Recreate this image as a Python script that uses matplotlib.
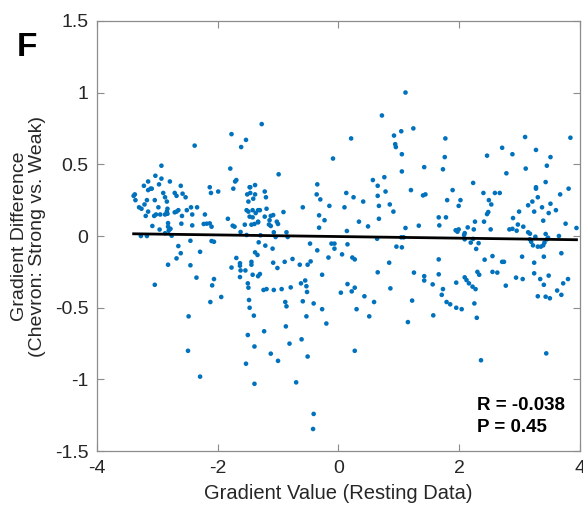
import numpy as np
import matplotlib.pyplot as plt

plt.rcParams['font.family'] = ['Liberation Sans', 'DejaVu Sans']
plt.rcParams['axes.unicode_minus'] = False

# resting gradient value (x) and gradient difference strong vs weak (y)
rest_left = [-2.38, -1.77, -1.53, -1.61, -2.93, -1.79, -1.69, -1.71, -1.74, -3.15, -3.03, -2.93, -2.79,
             -3.22, -3.09, -3.15, -3.11, -2.97, -2.61, -2.13, -2.11, -1.99, -3.37, -3.39, -3.36, -3.17,
             -3.04, -2.90, -2.87, -2.71, -2.68, -2.58, -2.53, -3.21, -3.26, -3.30, -3.15, -3.19, -2.98,
             -2.84, -2.83, -2.84, -2.68, -2.71, -2.65, -2.51, -2.44, -2.34, -2.59, -2.42, -2.21, -3.05,
             -3.02, -2.95, -2.87, -2.83, -3.08, -2.96, -2.82, -2.82, -2.78, -2.60, -2.42, -2.23, -2.18,
             -2.13, -2.10, -1.83, -1.75, -1.72, -1.55, -1.52, -1.49, -1.49, -1.47, -1.51,
             -3.27, -3.17, -2.87, -2.81, -2.76, -2.65, -2.45, -2.10, -2.06, -2.68, -2.61, -2.82, -2.45,
             -2.29, -2.35, -3.04, -2.06, -2.09, -2.12, -1.94, -2.48, -2.49, -2.29, -1.77, -1.69, -1.63,
             -1.63, -1.62, -1.63, -1.54, -1.62, -1.52, -1.50, -1.49, -1.48, -1.47, -1.50, -1.53]
diff_left = [0.63, 0.71, 0.67, 0.62, 0.49, 0.47, 0.39, 0.38, 0.33, 0.38, 0.42, 0.40, 0.38,
             0.35, 0.33, 0.32, 0.33, 0.36, 0.35, 0.34, 0.30, 0.31, 0.29, 0.28, 0.25, 0.25,
             0.25, 0.30, 0.27, 0.30, 0.28, 0.295, 0.27, 0.22, 0.19, 0.20, 0.17, 0.14, 0.20,
             0.24, 0.19, 0.17, 0.17, 0.165, 0.18, 0.18, 0.20, 0.20, 0.14, 0.15, 0.15, 0.14,
             0.15, 0.15, 0.15, 0.155, 0.07, 0.045, 0.09, 0.065, 0.05, 0.086, 0.074, 0.084, 0.086,
             0.088, 0.065, 0.12, 0.072, 0.065, 0.079, 0.18, 0.17, 0.24, 0.34, 0.29,
             0.0, 0.0, 0.019, 0.037, 0.002, -0.07, -0.033, -0.035, -0.04, -0.156, -0.12, -0.20, -0.204,
             -0.11, -0.29, -0.34, -0.30, -0.344, -0.46, -0.425, -0.56, -0.80, -0.98, -0.22, -0.153, -0.19,
             -0.207, -0.24, -0.286, -0.24, 0.028, 0.007, -0.33, -0.36, -0.446, -0.50, -0.69, -0.89]

rest_mid = [-1.27, -0.99, -1.46, -1.38, -1.46, -1.38, -1.41, -1.22, -1.20, -1.42, -1.33, -1.30, -1.19,
            -1.47, -1.42, -1.37, -1.33, -1.39, -1.44, -1.33, -1.22, -1.12, -1.08, -1.14, -1.15, -1.12,
            -1.02, -1.00, -0.91, -0.59, -0.35, -0.36, -0.30, -0.32, -0.23, -0.32, -0.15, -0.09, 0.13,
            0.10, 0.21, 0.25, 0.34, 0.41, 0.49, 0.57, 0.65, 0.65, 0.67, 0.67, 0.72, 0.76, 0.78, 0.85,
            0.91, 0.92, 0.94, 0.95, 1.04, 1.05, 1.05, 1.11, 1.24, 1.20, 1.11, 1.33,
            -1.29, -1.32, -1.21, -1.09, -1.38, -1.34, -1.44, -1.44, -1.08, -0.89, -1.01, -0.76, -0.64,
            -0.51, -0.46, -1.07, -1.04, -0.86, -0.84, -0.47, -0.35, -0.165, -0.115, -0.066, -0.066, 0.14,
            0.15, 0.06, 0.23, 0.27, 0.64, 0.96, 1.05, 1.04, 1.08, 0.84, 0.65, 1.25, 0.86, 1.22, 1.15,
            -1.42, -1.33, -1.30, -1.24, -1.19, -1.07, -0.94, -0.79, -0.62, -0.55, -0.53, -0.52, -0.27,
            -0.59, -0.88, -0.86, -0.41, -0.27, -0.53, -0.20, -1.40, -0.87, -1.23, -1.39, -0.81, -0.61,
            -1.12, -1.00, -0.51, -1.39, -0.70, -0.41, -0.42, 0.04, 0.15, 0.22, 0.27, 0.43, 0.59, 0.30,
            0.51, 0.27]
diff_mid = [0.78, 0.43, 0.34, 0.355, 0.30, 0.29, 0.26, 0.31, 0.27, 0.18, 0.18, 0.18, 0.19,
            0.135, 0.13, 0.16, 0.095, 0.084, 0.079, 0.10, 0.135, 0.14, 0.146, 0.11, 0.08, 0.07,
            0.10, 0.084, 0.167, 0.20, 0.36, 0.29, 0.255, 0.144, 0.11, 0.058, 0.21, 0.54, 0.30,
            0.20, 0.68, 0.27, 0.10, 0.24, 0.067, 0.39, 0.35, 0.28, 0.21, 0.12, 0.84, 0.41, 0.31, 0.22,
            0.17, 0.70, 0.64, 0.62, 0.73, 0.57, 0.45, 1.00, 0.75, 0.32, 0.056, 0.072,
            0.005, -0.044, -0.067, -0.088, -0.114, -0.132, -0.18, -0.20, -0.186, -0.18, -0.223, -0.16, -0.20,
            -0.20, -0.177, 0.026, -0.007, 0.026, -0.007, -0.053, -0.10, -0.15, -0.053, -0.053, -0.088, 0.035,
            -0.058, -0.128, -0.15, -0.163, -0.019, -0.074, -0.079, -0.009, -0.009, -0.186, -0.253, -0.255,
            -0.365, -0.45, -0.60,
            -0.27, -0.28, -0.265, -0.376, -0.37, -0.376, -0.37, -0.358, -0.33, -0.31, -0.35, -0.39, -0.27,
            -0.455, -0.46, -0.49, -0.47, -0.51, -0.56, -0.61, -0.555, -0.63, -0.664, -0.77, -0.75, -0.72,
            -0.82, -0.87, -0.84, -1.03, -1.02, -1.24, -1.345, -0.395, -0.335, -0.386, -0.36, -0.42, -0.46, -0.51,
            -0.56, -0.80]

rest_right = [1.42, 1.40, 1.44, 1.77, 1.76, 1.73, 1.89, 1.80, 1.66, 1.78, 1.67, 1.99, 2.02, 2.23, 1.94,
              1.99, 1.97, 2.14, 2.24, 2.09, 2.26, 2.40, 2.41, 2.46, 2.49, 2.53, 2.48, 2.46, 2.52, 2.59,
              2.67, 2.71, 2.78, 2.88, 2.83, 2.88, 2.95, 2.89, 2.99, 2.97, 3.06, 3.09, 3.10, 3.14, 3.21,
              3.24, 3.27, 3.27, 3.27, 3.30, 3.43, 3.45, 3.51, 3.37, 3.48, 3.51, 3.60, 3.39, 3.67, 3.81,
              3.84, 3.76, 3.94,
              2.08, 2.09, 2.19, 2.23, 2.32, 2.28, 2.42, 2.55, 2.71, 2.74, 3.04, 3.24, 3.40, 3.69, 3.14,
              3.17, 3.17, 3.19, 3.22, 3.26, 3.30, 3.35, 3.39, 3.43, 3.45, 3.47, 3.41, 3.65, 1.66, 1.42,
              1.42, 1.56, 1.66, 1.73, 1.71, 1.79, 1.85, 1.95, 2.04, 1.57, 1.95, 2.09, 2.12, 2.16, 2.22,
              2.27, 2.30, 2.33, 2.25, 2.29, 2.55, 2.63, 2.77, 2.94, 3.05, 3.24, 3.34, 3.40, 3.48, 3.30,
              3.43, 3.50, 3.62, 3.69, 3.72, 3.80, 2.36, 3.44]
diff_right = [0.48, 0.283, 0.29, 0.68, 0.55, 0.465, 0.32, 0.25, 0.13, 0.13, 0.074, 0.21, 0.25, 0.37, 0.04,
              0.046, 0.03, 0.06, 0.046, 0.02, 0.10, 0.30, 0.10, 0.56, 0.25, 0.22, 0.167, 0.153, 0.046, 0.30,
              0.30, 0.615, 0.437, 0.57, 0.046, 0.05, 0.037, 0.125, 0.17, 0.08, 0.065, 0.69, 0.47, 0.214, 0.24,
              0.17, 0.60, 0.33, 0.34, 0.27, 0.376, 0.49, 0.55, 0.20, 0.16, 0.225, 0.18, 0.107, 0.29, 0.33,
              0.685, 0.086, 0.056,
              0.007, -0.023, -0.046, -0.02, -0.05, -0.09, -0.165, -0.14, -0.18, -0.18, -0.144, -0.186, -0.144,
              -0.12, 0.026, 0.016, -0.023, -0.04, -0.065, -0.005, -0.074, -0.074, -0.065, 0.014, -0.023,
              -0.012, -0.046, 0.0, -0.163, -0.28, -0.31, -0.337, -0.267, -0.37, -0.41, -0.46, -0.476, -0.50,
              -0.51, -0.553, -0.325, -0.288, -0.307, -0.33, -0.353, -0.37, -0.25, -0.27, -0.47, -0.57, -0.25,
              -0.255, -0.346, -0.29, -0.30, -0.26, -0.30, -0.34, -0.276, -0.42, -0.423, -0.434, -0.38, -0.41,
              -0.33, -0.30, -0.866, -0.818]

x_ticks = [-4, -2, 0, 2, 4]
y_ticks = [-1.5, -1, -0.5, 0, 0.5, 1, 1.5]
y_ticklabels = ['-1.5', '-1', '-0.5', '0', '0.5', '1', '1.5']

x = np.array(rest_left + rest_mid + rest_right)
y = np.array(diff_left + diff_mid + diff_right)

fig = plt.figure(figsize=(5.83, 5.07), dpi=100)
ax = fig.add_axes([0.166, 0.11, 0.829, 0.849])

ax.scatter(x, y, s=11, color='#0072BD', edgecolors='none', zorder=2)

# least squares line over the data range
slope, icpt = np.polyfit(x, y, 1)
xl = np.array([x.min(), x.max()])
ax.plot(xl, slope * xl + icpt, color='black', lw=2, zorder=3)

ax.set_xlim(-4, 4)
ax.set_ylim(-1.5, 1.5)
ax.set_xticks(x_ticks)
ax.set_yticks(y_ticks)
ax.set_yticklabels(y_ticklabels)

gray = '#8c8c8c'
for sp in ax.spines.values():
    sp.set_color(gray)
    sp.set_linewidth(0.9)
ax.tick_params(direction='in', length=5, width=0.8, color=gray, labelcolor='#262626',
               labelsize=14, top=True, right=True, pad=6)

ax.set_xlabel('Gradient Value (Resting Data)', fontsize=14.5, color='#262626', labelpad=5)
ax.set_ylabel('Gradient Difference\n(Chevron: Strong vs. Weak)', fontsize=14, color='#262626',
              labelpad=6, linespacing=1.1)

ax.text(2.29, -1.21, 'R = -0.038', fontsize=13.5, fontweight='bold', va='baseline', ha='left')
ax.text(2.29, -1.365, 'P = 0.45', fontsize=13.5, fontweight='bold', va='baseline', ha='left')

fig.text(0.029, 0.89, 'F', fontsize=24, fontweight='bold', va='baseline', ha='left')

fig.savefig('out.png', dpi=100)
